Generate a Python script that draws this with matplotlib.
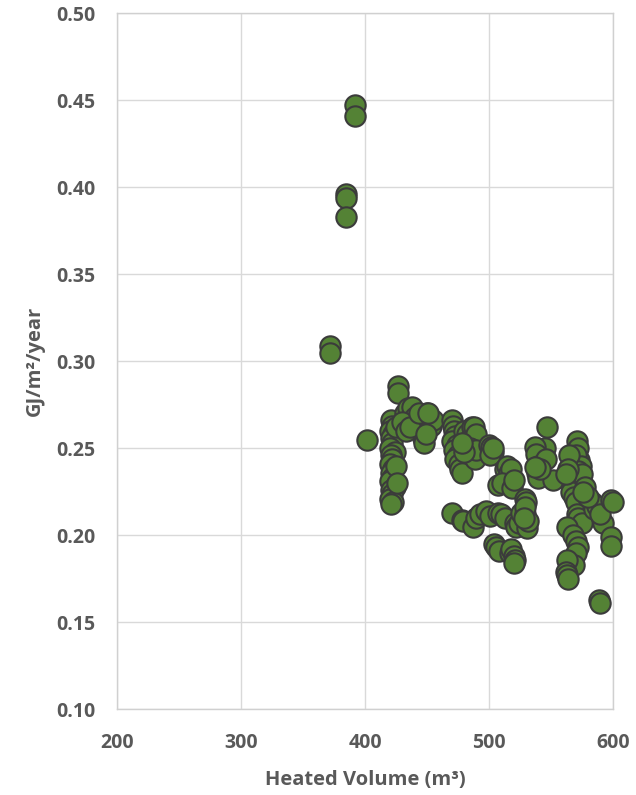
import matplotlib
matplotlib.use("Agg")
import matplotlib.pyplot as plt

plt.rcParams['font.family'] = ['Open Sans', 'DejaVu Sans']

# Heated volume (m3) and energy use (GJ/m2/year)
heated_volume = [
    # outliers
    392, 392, 385, 385, 385, 372, 372,
    # single point
    402,
    # cluster ~420
    421, 422, 420, 423, 421, 422, 420, 424, 421, 422, 420, 423, 421, 422, 420, 424,
    421, 422, 420, 423, 421, 425, 425, 426,
    # cluster ~427-455
    427, 427, 432, 435, 438, 440, 442, 445, 447, 448, 450, 452, 453, 455, 430, 433,
    436, 444, 449, 451,
    # cluster ~470-490
    470, 471, 472, 473, 470, 474, 472, 475, 473, 476, 477, 478, 480, 482, 484, 486,
    488, 490, 485, 487, 489, 490, 480, 478,
    # cluster ~500
    500, 502, 503, 501, 503,
    # cluster ~505-520
    513, 515, 516, 518, 507, 511, 519, 520,
    # lower band 470-535
    470, 478, 479, 487, 490, 493, 498, 501, 504, 506, 508, 507, 510, 513, 517, 518,
    520, 521, 520, 521, 522, 524, 526, 529, 529, 530, 531, 532, 529, 528,
    # cluster ~535-555
    547, 545, 537, 538, 540, 539, 540, 552, 546, 541, 537,
    # cluster ~560-600
    571, 572, 573, 570, 574, 572, 565, 566, 567, 566, 569, 570, 571, 572, 575, 563,
    568, 570, 572, 570, 569, 563, 562, 563, 564, 583, 585, 587, 592, 590, 599, 600,
    599, 599, 589, 590, 575, 578, 580, 576, 564, 562,
]
energy_use = [
    0.447, 0.441, 0.396, 0.394, 0.383, 0.309, 0.305,
    0.255,
    0.266, 0.263, 0.260, 0.258, 0.256, 0.253, 0.250, 0.248, 0.246, 0.244, 0.241, 0.238,
    0.236, 0.233, 0.231, 0.228, 0.226, 0.224, 0.221, 0.219, 0.218, 0.262, 0.240, 0.230,
    0.286, 0.282, 0.270, 0.273, 0.274, 0.268, 0.265, 0.262, 0.256, 0.253, 0.270, 0.268,
    0.263, 0.266, 0.265, 0.260, 0.262, 0.270, 0.258, 0.270,
    0.266, 0.263, 0.260, 0.257, 0.254, 0.252, 0.249, 0.246, 0.244, 0.241, 0.238, 0.236,
    0.260, 0.258, 0.255, 0.262, 0.262, 0.258, 0.250, 0.247, 0.244, 0.249, 0.248, 0.253,
    0.252, 0.251, 0.248, 0.246, 0.250,
    0.238, 0.240, 0.236, 0.238, 0.229, 0.230, 0.227, 0.232,
    0.213, 0.209, 0.208, 0.205, 0.210, 0.212, 0.214, 0.211, 0.195, 0.193, 0.191, 0.213,
    0.212, 0.210, 0.190, 0.192, 0.188, 0.186, 0.184, 0.207, 0.205, 0.207, 0.213, 0.212,
    0.221, 0.219, 0.204, 0.208, 0.216, 0.210,
    0.262, 0.250, 0.251, 0.247, 0.240, 0.236, 0.233, 0.232, 0.244, 0.238, 0.239,
    0.254, 0.250, 0.243, 0.246, 0.240, 0.237, 0.246, 0.233, 0.228, 0.225, 0.222, 0.219,
    0.212, 0.210, 0.207, 0.205, 0.200, 0.197, 0.193, 0.190, 0.183, 0.186, 0.179, 0.177,
    0.175, 0.219, 0.215, 0.217, 0.207, 0.212, 0.220, 0.219, 0.199, 0.194, 0.163, 0.161,
    0.235, 0.228, 0.222, 0.225, 0.238, 0.235,
]

x_ticks = [200, 300, 400, 500, 600]
y_ticks = [0.10, 0.15, 0.20, 0.25, 0.30, 0.35, 0.40, 0.45, 0.50]

fig = plt.figure(figsize=(6.36, 7.95), dpi=100)
ax = fig.add_axes([0.1844, 0.1078, 0.779, 0.8755])

ax.scatter(heated_volume, energy_use, s=215, c='#548235', edgecolors='#3b3b3b',
           linewidths=1.5, zorder=3, clip_on=False)

ax.set_xlim(200, 600)
ax.set_ylim(0.10, 0.50)
ax.set_xticks(x_ticks)
ax.set_yticks(y_ticks)
ax.set_xticklabels([str(v) for v in x_ticks])
ax.set_yticklabels([f"{v:.2f}" for v in y_ticks])

ax.grid(True, color='#d9d9d9', linewidth=1.0, zorder=0)
ax.set_axisbelow(True)
for sp in ax.spines.values():
    sp.set_color('#d0d0d0')
    sp.set_linewidth(1.0)

label_color = '#595959'
ax.tick_params(axis='both', length=0, labelsize=14, labelcolor=label_color)
ax.tick_params(axis='y', pad=16)
ax.tick_params(axis='x', pad=17)
for lbl in ax.get_xticklabels() + ax.get_yticklabels():
    lbl.set_fontweight('bold')

ax.set_xlabel('Heated Volume (m³)', fontsize=14.5, fontweight='bold',
              color=label_color, labelpad=12)
ax.set_ylabel('GJ/m²/year', fontsize=14.5, fontweight='bold',
              color=label_color, labelpad=8)

fig.savefig('out.png', dpi=100)
